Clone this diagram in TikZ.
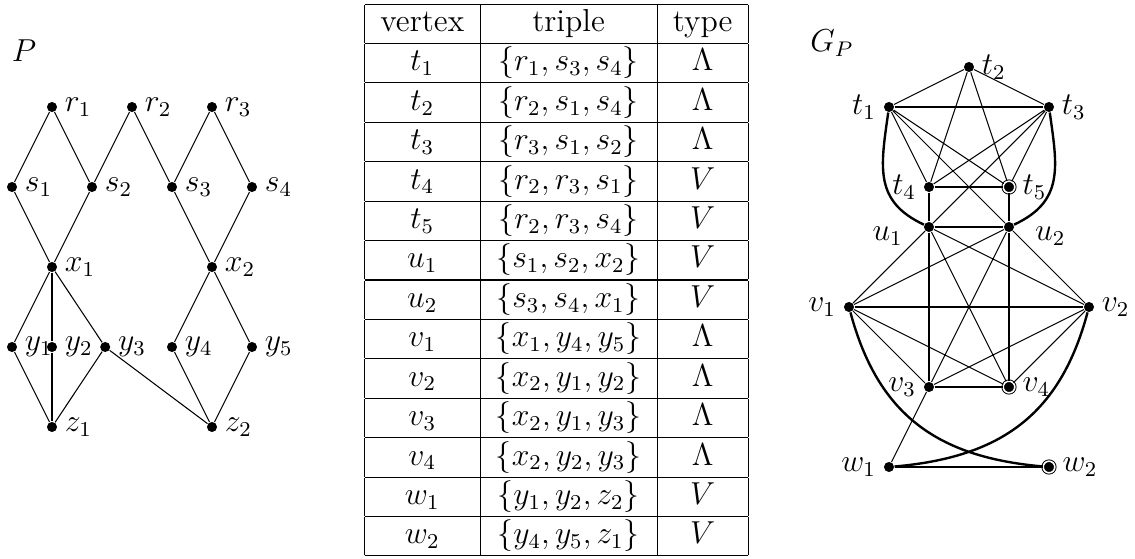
\documentclass[12pt,tikz,border=0pt]{standalone}
\usepackage{amsmath}
\usetikzlibrary{positioning}
\tikzset{
  vtx/.style={circle, fill=black, inner sep=0pt, minimum size=3.8pt},
  ringvtx/.style={circle, fill=black, draw=black, double=white,
    double distance=0.6pt, line width=0.35pt, inner sep=0pt, minimum size=4.4pt},
  edge/.style={line width=0.4pt},
  cover/.style={line width=0.9pt}
}
\begin{document}
\begin{tikzpicture}[x=15.12pt, y=15.12pt, every label/.style={inner sep=2.6pt}]
  \useasboundingbox (-0.3,-2.275) rectangle (28.075,11.675);
  \node (lblP) at (0.3,10.4) {$P$};
  \node[vtx, label=right:$r_1$] (r1) at (1,9) {};
  \node[vtx, label=right:$r_2$] (r2) at (3,9) {};
  \node[vtx, label=right:$r_3$] (r3) at (5,9) {};
  \node[vtx, label=right:$s_1$] (s1) at (0,7) {};
  \node[vtx, label=right:$s_2$] (s2) at (2,7) {};
  \node[vtx, label=right:$s_3$] (s3) at (4,7) {};
  \node[vtx, label=right:$s_4$] (s4) at (6,7) {};
  \node[vtx, label=right:$x_1$] (x1) at (1,5) {};
  \node[vtx, label=right:$x_2$] (x2) at (5,5) {};
  \node[vtx, label=right:$y_1$] (y1) at (0,3) {};
  \node[vtx, label=right:$y_2$] (y2) at (1,3) {};
  \node[vtx, label=right:$y_3$] (y3) at (2.33,3) {};
  \node[vtx, label=right:$y_4$] (y4) at (4,3) {};
  \node[vtx, label=right:$y_5$] (y5) at (6,3) {};
  \node[vtx, label=right:$z_1$] (z1) at (1,1) {};
  \node[vtx, label=right:$z_2$] (z2) at (5,1) {};
  \draw[edge] (r1) -- (s1) (r1) -- (s2) (r2) -- (s2) (r2) -- (s3)
    (r3) -- (s3) (r3) -- (s4) (s1) -- (x1) (s2) -- (x1) (s3) -- (x2)
    (s4) -- (x2) (x1) -- (y1) (x1) -- (y3) (y1) -- (z1) (y3) -- (z1)
    (y3) -- (z2) (x2) -- (y4) (x2) -- (y5) (y4) -- (z2) (y5) -- (z2);
  \draw[cover] (x1) -- (y2) -- (z1);

  \node[anchor=north west, inner sep=0pt] (tab) at (8.8,11.6) {%
    \begin{tabular}{|c|c|c|}\hline
      vertex & triple & type\\\hline
      $t_1$ & $\{r_1,s_3,s_4\}$ & $\Lambda$\\\hline
      $t_2$ & $\{r_2,s_1,s_4\}$ & $\Lambda$\\\hline
      $t_3$ & $\{r_3,s_1,s_2\}$ & $\Lambda$\\\hline
      $t_4$ & $\{r_2,r_3,s_1\}$ & $V$\\\hline
      $t_5$ & $\{r_2,r_3,s_4\}$ & $V$\\\hline
      $u_1$ & $\{s_1,s_2,x_2\}$ & $V$\\\hline
      $u_2$ & $\{s_3,s_4,x_1\}$ & $V$\\\hline
      $v_1$ & $\{x_1,y_4,y_5\}$ & $\Lambda$\\\hline
      $v_2$ & $\{x_2,y_1,y_2\}$ & $\Lambda$\\\hline
      $v_3$ & $\{x_2,y_1,y_3\}$ & $\Lambda$\\\hline
      $v_4$ & $\{x_2,y_2,y_3\}$ & $\Lambda$\\\hline
      $w_1$ & $\{y_1,y_2,z_2\}$ & $V$\\\hline
      $w_2$ & $\{y_4,y_5,z_1\}$ & $V$\\\hline
    \end{tabular}};

  \node (lblG) at (20.5,10.6) {$G_P$};
  \begin{scope}[shift={(20.925,0)}]
    \node[vtx, label=left:$t_1$] (t1) at (1,9) {};
    \node[vtx, label=right:$t_2$] (t2) at (3,10) {};
    \node[vtx, label=right:$t_3$] (t3) at (5,9) {};
    \node[vtx, label=left:$t_4$] (t4) at (2,7) {};
    \node[ringvtx, label=right:$t_5$] (t5) at (4,7) {};
    \node[vtx, label={[xshift=-5pt, yshift=-3.5pt]left:$u_1$}] (u1) at (2,6) {};
    \node[vtx, label={[xshift=5pt, yshift=-3.5pt]right:$u_2$}] (u2) at (4,6) {};
    \node[vtx, label=left:$v_1$] (v1) at (0,4) {};
    \node[vtx, label=right:$v_2$] (v2) at (6,4) {};
    \node[vtx, label=left:$v_3$] (v3) at (2,2) {};
    \node[ringvtx, label=right:$v_4$] (v4) at (4,2) {};
    \node[vtx, label=left:$w_1$] (w1) at (1,0) {};
    \node[ringvtx, label=right:$w_2$] (w2) at (5,0) {};
    \draw[edge] (t1) -- (t2) (t2) -- (t3) (t1) -- (t4) (t1) -- (t5)
      (t2) -- (t4) (t2) -- (t5) (t3) -- (t4) (t3) -- (t5)
      (t1) -- (u2) (t3) -- (u1) (u1) -- (v1) (u1) -- (v2) (u1) -- (v4)
      (u2) -- (v1) (u2) -- (v2) (u2) -- (v3) (v1) -- (v3) (v1) -- (v4)
      (v2) -- (v3) (v2) -- (v4) (v3) -- (w1);
    \draw[cover] (t1) -- (t3) (t4) -- (t5) (t4) -- (u1) (t5) -- (u2)
      (u1) -- (u2) (u1) -- (v3) (u2) -- (v4) (v1) -- (v2) (v3) -- (v4)
      (w1) -- (w2);
    \draw[cover] (t1) to[out=-98, in=155, looseness=1.2] (u1);
    \draw[cover] (t3) to[out=-82, in=25, looseness=1.2] (u2);
    \draw[cover] (v1) to[out=-75, in=175, looseness=1.1] (w2);
    \draw[cover] (v2) to[out=-105, in=5, looseness=1.1] (w1);
  \end{scope}
\end{tikzpicture}
\end{document}
